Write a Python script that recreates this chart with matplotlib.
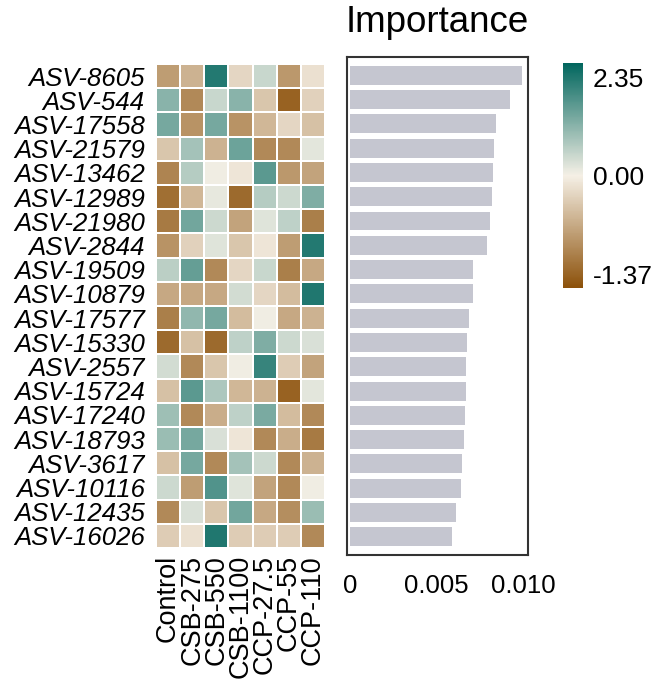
import numpy as np
import matplotlib
matplotlib.use("Agg")
import matplotlib.pyplot as plt
from matplotlib.colors import LinearSegmentedColormap, TwoSlopeNorm

plt.rcParams["font.family"] = ["Liberation Sans", "DejaVu Sans"]

asvs = ["ASV-8605", "ASV-544", "ASV-17558", "ASV-21579", "ASV-13462",
        "ASV-12989", "ASV-21980", "ASV-2844", "ASV-19509", "ASV-10879",
        "ASV-17577", "ASV-15330", "ASV-2557", "ASV-15724", "ASV-17240",
        "ASV-18793", "ASV-3617", "ASV-10116", "ASV-12435", "ASV-16026"]
groups = ["Control", "CSB-275", "CSB-550", "CSB-1100", "CCP-27.5", "CCP-55", "CCP-110"]

# scaled abundance (z-score) per ASV and treatment
zscores = [
    [-0.80, -0.60, 2.30, -0.25, 0.50, -0.85, -0.15],
    [1.20, -1.00, 0.50, 1.20, -0.40, -1.37, -0.30],
    [1.40, -0.90, 1.40, -0.90, -0.55, -0.25, -0.45],
    [-0.40, 0.90, -0.60, 1.50, -1.00, -1.00, 0.20],
    [-1.05, 0.70, 0.05, -0.10, 1.70, -0.85, -0.75],
    [-1.25, -0.55, 0.15, -1.30, 0.70, 0.45, 1.30],
    [-1.15, 1.45, 0.45, -0.75, 0.25, 0.60, -1.10],
    [-0.90, -0.30, 0.25, -0.40, -0.10, -0.80, 2.30],
    [0.65, 1.60, -1.00, -0.25, 0.50, -1.10, -0.70],
    [-0.70, -0.70, -0.70, 0.40, -0.25, -0.50, 2.35],
    [-1.10, 1.10, 1.40, -0.50, 0.05, -0.70, -0.60],
    [-1.30, -0.45, -1.30, 0.60, 1.30, 0.45, 0.30],
    [0.40, -1.00, -0.40, 0.05, 2.10, -0.35, -0.75],
    [-0.45, 1.70, 0.80, -0.55, -0.60, -1.37, 0.20],
    [0.95, -1.00, -0.65, 0.60, 1.35, -0.50, -1.00],
    [1.00, 1.40, 0.30, -0.10, -1.00, -0.65, -1.15],
    [-0.45, 1.40, -1.00, 0.90, 0.45, -1.00, -0.60],
    [0.45, -0.80, 1.80, 0.25, -0.75, -1.00, 0.05],
    [-1.00, 0.30, -0.40, 1.45, -0.70, -0.95, 1.00],
    [-0.35, -0.15, 2.35, -0.35, -0.35, -0.35, -1.00],
]
importance = [0.00992, 0.00926, 0.00845, 0.00830, 0.00827, 0.00818, 0.00806,
              0.00789, 0.00713, 0.00711, 0.00688, 0.00673, 0.00669, 0.00667,
              0.00665, 0.00659, 0.00645, 0.00638, 0.00612, 0.00587]

cmap = LinearSegmentedColormap.from_list("brbg", ["#8c510a", "#f5f0e6", "#01665e"])
norm = TwoSlopeNorm(vmin=-1.55, vcenter=0, vmax=2.7)

fig = plt.figure(figsize=(6.61, 6.84), dpi=100)

# heatmap
ax_h = fig.add_axes([0.236, 0.1988, 0.2557, 0.7076])
mesh = ax_h.pcolormesh(np.array(zscores), cmap=cmap, norm=norm,
                       edgecolors="white", linewidth=1.2)
ax_h.set_xlim(0, len(groups))
ax_h.set_ylim(len(asvs), 0)
ax_h.set_xticks(np.arange(len(groups)) + 0.5)
ax_h.set_xticklabels(groups, rotation=90, fontsize=19.5)
ax_h.set_yticks(np.arange(len(asvs)) + 0.5)
ax_h.set_yticklabels(asvs, fontsize=18.5, style="italic")
ax_h.tick_params(axis="y", length=0, pad=8)
ax_h.tick_params(axis="x", length=0, pad=5)
for s in ax_h.spines.values():
    s.set_visible(False)

# importance bars
ax_b = fig.add_axes([0.525, 0.1886, 0.274, 0.728])
ax_b.barh(np.arange(len(asvs)), importance, height=0.78, color="#c5c6d0")
ax_b.set_ylim(len(asvs) - 0.25, -0.75)
ax_b.set_xlim(-0.0002, 0.0103)
ax_b.set_yticks([])
ax_b.set_xticks([0, 0.005, 0.010])
ax_b.set_xticklabels(["0", "0.005", "0.010"], fontsize=18.5)
ax_b.tick_params(axis="x", length=0, pad=14)
for s in ax_b.spines.values():
    s.set_color("#333333")
    s.set_linewidth(1.5)
ax_b.set_title("Importance", fontsize=26.5, pad=18)

# colour key
cax = fig.add_axes([0.851, 0.579, 0.031, 0.329])
cb = fig.colorbar(mesh, cax=cax)
cb.outline.set_visible(False)
cb.set_ticks([-1.37, 0, 2.35])
cb.set_ticklabels(["-1.37", "0.00", "2.35"])
cb.ax.tick_params(length=0, labelsize=19, pad=7)

fig.savefig("out.png", dpi=100)
